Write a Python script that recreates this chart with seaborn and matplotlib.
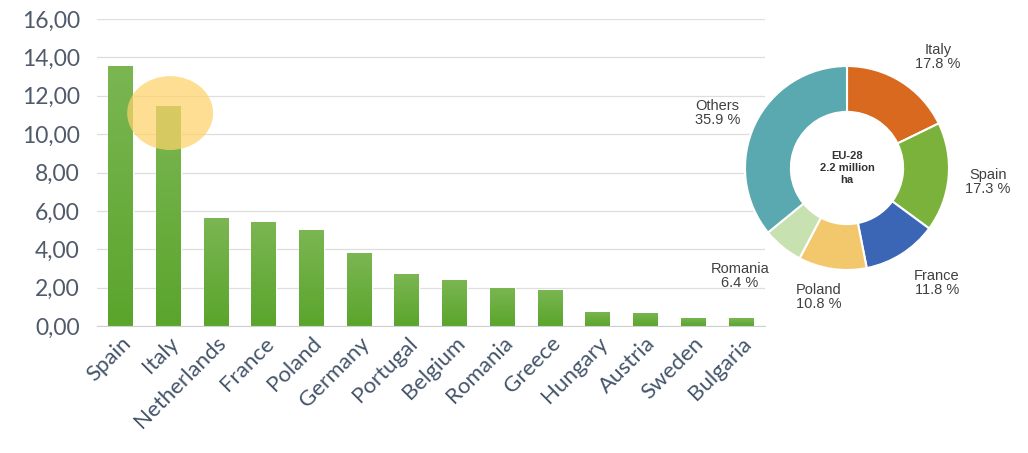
import numpy as np
import matplotlib
matplotlib.use('Agg')
import matplotlib.pyplot as plt
import seaborn as sns
from matplotlib.patches import Ellipse
from matplotlib.ticker import FuncFormatter, MultipleLocator

countries = ['Spain', 'Italy', 'Netherlands', 'France', 'Poland', 'Germany', 'Portugal',
             'Belgium', 'Romania', 'Greece', 'Hungary', 'Austria', 'Sweden', 'Bulgaria']
values = [13.55, 11.45, 5.63, 5.42, 5.0, 3.8, 2.7, 2.4, 2.0, 1.9, 0.73, 0.68, 0.42, 0.4]

pie_labels = ['Italy', 'Spain', 'France', 'Poland', 'Romania', 'Others']
pie_shares = [17.8, 17.3, 11.8, 10.8, 6.4, 35.9]
pie_colors = ['#d8691f', '#7ab23c', '#3b66b6', '#f3c76c', '#c7e1b1', '#5aa9b0']
# label offsets around the donut, in radius units
pie_label_pos = [(0.89, 1.09), (1.38, -0.14), (0.88, -1.13), (-0.28, -1.26), (-1.05, -1.06), (-1.27, 0.54)]

sns.set_style('white')
plt.rcParams['font.family'] = ['Lato', 'DejaVu Sans']

fig = plt.figure(figsize=(10.28, 4.53), dpi=100)
ax = fig.add_axes([0.094, 0.280, 0.650, 0.678])

sns.barplot(x=countries, y=values, color='#66ad3a', saturation=1, width=0.52, ax=ax, zorder=2)

# vertical gradient on each bar
grad = np.linspace(0, 1, 256).reshape(-1, 1)
cmap = matplotlib.colors.LinearSegmentedColormap.from_list('g', ['#5aa52c', '#7bb652'])
for p in list(ax.patches):
    x0, y0 = p.get_x(), p.get_y()
    w, h = p.get_width(), p.get_height()
    im = ax.imshow(grad, cmap=cmap, aspect='auto', origin='lower',
                   extent=[x0, x0 + w, y0, y0 + h], zorder=2)
    im.set_clip_path(p)

ax.set_xlim(-0.5, len(countries) - 0.5)
ax.set_ylim(0, 16)
ax.yaxis.set_major_locator(MultipleLocator(2))
ax.yaxis.set_major_formatter(FuncFormatter(lambda v, _: f'{v:.2f}'.replace('.', ',')))
ax.grid(axis='y', color='#dedede', linewidth=0.9, zorder=0)
ax.set_axisbelow(True)
for s in ['top', 'right', 'left']:
    ax.spines[s].set_visible(False)
ax.spines['bottom'].set_color('#d0d0d0')
ax.tick_params(axis='y', length=0, labelsize=16.5, labelcolor='#4f5a6b', pad=12)
ax.tick_params(axis='x', length=0, labelsize=16, labelcolor='#44546a', pad=5)
plt.setp(ax.get_xticklabels(), rotation=45, ha='right', rotation_mode='anchor')

# highlight circle on Italy
hl = Ellipse((1.04, values[1] - 0.35), 1.8, 3.85, facecolor='#fdd26a', alpha=0.72,
             edgecolor='none', zorder=3)
ax.add_patch(hl)

# donut inset
pax = fig.add_axes([745 / 1028, (453 - 270) / 453, 204 / 1028, 204 / 453])
pax.pie(pie_shares, colors=pie_colors, startangle=90, counterclock=False,
        wedgeprops=dict(width=0.45, edgecolor='white', linewidth=1.5))
pax.set_xlim(-1, 1)
pax.set_ylim(-1, 1)
pax.set_aspect('equal')
pax.axis('off')
for lab, share, (dx, dy) in zip(pie_labels, pie_shares, pie_label_pos):
    pax.text(dx, dy, f'{lab}\n{share:.1f} %', ha='center', va='center', fontsize=10.5,
             color='#404040', family=['Liberation Sans', 'DejaVu Sans'], clip_on=False,
             linespacing=1.0)
pax.text(0, 0, 'EU-28\n2.2 million\nha', ha='center', va='center', fontsize=8,
         fontweight='bold', color='#333333', family=['Liberation Sans', 'DejaVu Sans'],
         linespacing=1.2)

fig.savefig('out.png', dpi=100)
